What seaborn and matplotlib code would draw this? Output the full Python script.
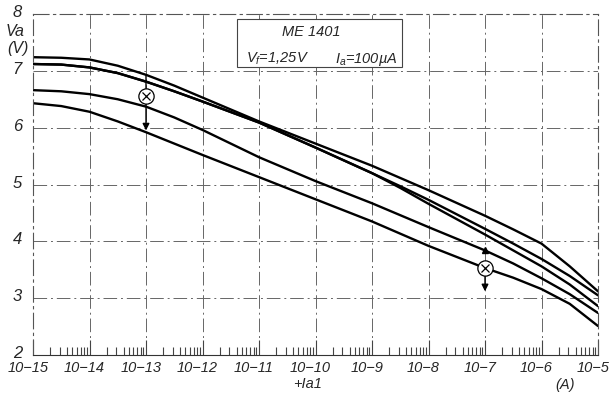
import numpy as np
import pandas as pd
import matplotlib
matplotlib.use("Agg")
import matplotlib.pyplot as plt
from matplotlib.ticker import LogLocator, FixedLocator, FixedFormatter, NullFormatter
from matplotlib.transforms import ScaledTranslation
import seaborn as sns

# ---- data (exponent of Ia1 in A, Va in V) ----
exp_main = [-15, -14.5, -14, -13.5, -13, -12.5, -12, -11, -10, -9, -8, -7, -6.5, -6, -5.5, -5]
curve_a = [7.24, 7.23, 7.20, 7.09, 6.93, 6.74, 6.53, 6.11, 5.72, 5.33, 4.90, 4.45, 4.21, 3.96, 3.56, 3.12]
curve_d = [6.66, 6.64, 6.59, 6.50, 6.37, 6.18, 5.96, 5.48, 5.06, 4.67, 4.25, 3.84, 3.61, 3.35, 3.07, 2.74]
curve_e = [6.43, 6.38, 6.28, 6.11, 5.92, 5.72, 5.52, 5.13, 4.74, 4.35, 3.92, 3.53, 3.36, 3.16, 2.90, 2.51]

exp_split = [-15, -14.5, -14, -13.5, -13, -12.5, -12, -11, -10, -9, -8.5, -8, -7, -6.5, -6, -5.5, -5]
curve_b = [7.12, 7.11, 7.06, 6.96, 6.81, 6.64, 6.46, 6.09, 5.65, 5.20, 4.97, 4.73, 4.22, 3.96, 3.69, 3.39, 3.05]
curve_c = [7.12, 7.11, 7.06, 6.96, 6.81, 6.64, 6.46, 6.09, 5.65, 5.20, 4.94, 4.66, 4.12, 3.84, 3.56, 3.24, 2.86]

x_tick_exps = [-15, -14, -13, -12, -11, -10, -9, -8, -7, -6, -5]
x_tick_labels = ["10−15", "10−14", "10−13", "10−12", "10−11", "10−10",
                 "10−9", "10−8", "10−7", "10−6", "10−5"]
y_ticks = [2, 3, 4, 5, 6, 7, 8]

# markers (circled cross) and arrows
mark_exp = [-13, -7]
mark_v = [6.55, 3.53]
arrow_exp = [-13, -7]
arrow_from = [6.93, 3.53]
arrow_to = [5.95, 3.12]
tri_exp = [-7]
tri_v = [3.84]

# ---- build table ----
rows = []
for name, ex, vals in [("A", exp_main, curve_a), ("B", exp_split, curve_b),
                       ("C", exp_split, curve_c), ("D", exp_main, curve_d),
                       ("E", exp_main, curve_e)]:
    for e, v in zip(ex, vals):
        rows.append({"curve": name, "I": 10.0 ** e, "Va": v})
df = pd.DataFrame(rows)

sns.set_theme(style="white")
plt.rcParams["font.family"] = ["Liberation Sans", "DejaVu Sans"]
plt.rcParams["font.style"] = "italic"
plt.rcParams["mathtext.fontset"] = "custom"
plt.rcParams["mathtext.rm"] = "Liberation Sans:italic"
plt.rcParams["mathtext.it"] = "Liberation Sans:italic"

fig = plt.figure(figsize=(6.1, 3.93), dpi=100)
ax = fig.add_axes([33 / 610, 1 - 355 / 393, (598 - 33) / 610, (355 - 14) / 393])

sns.lineplot(data=df, x="I", y="Va", hue="curve", palette=["black"] * 5,
             estimator=None, sort=False, legend=False, linewidth=1.7, ax=ax)

ax.set_xscale("log")
ax.set_xlim(1e-15, 1e-5)
ax.set_ylim(2, 8)

grid_style = dict(color="#666666", linewidth=0.7, linestyle=(0, (14, 4, 2, 4)))
for e in x_tick_exps[1:-1]:
    ax.axvline(10.0 ** e, zorder=0, **grid_style)
for v in y_ticks[1:-1]:
    ax.axhline(v, zorder=0, **grid_style)

for side in ["left", "top", "right"]:
    ax.spines[side].set_linestyle((0, (14, 4, 2, 4)))
    ax.spines[side].set_color("#555555")
    ax.spines[side].set_linewidth(0.8)
ax.spines["bottom"].set_color("#333333")
ax.spines["bottom"].set_linewidth(0.8)

ax.xaxis.set_major_locator(FixedLocator([10.0 ** e for e in x_tick_exps]))
ax.xaxis.set_major_formatter(FixedFormatter(x_tick_labels))
ax.xaxis.set_minor_locator(LogLocator(base=10, subs=np.arange(2, 10), numticks=200))
ax.xaxis.set_minor_formatter(NullFormatter())
ax.tick_params(axis="x", which="major", direction="in", length=11, width=0.8,
               color="#444444", labelsize=10.5, pad=4, bottom=True)
ax.tick_params(axis="x", which="minor", direction="in", length=6, width=0.8,
               color="#444444", bottom=True)
ax.set_yticks(y_ticks)
ax.set_yticklabels([str(v) for v in y_ticks])
ax.tick_params(axis="y", which="major", length=0, labelsize=12, pad=8, left=True)
xoff = ScaledTranslation(-5 / 100, 0, fig.dpi_scale_trans)
for lab in ax.get_xticklabels():
    lab.set_transform(lab.get_transform() + xoff)
yoff = ScaledTranslation(0, 3 / 100, fig.dpi_scale_trans)
for lab in ax.get_yticklabels():
    lab.set_transform(lab.get_transform() + yoff)
ax.set_xlabel("")
ax.set_ylabel("")

# markers and arrows
for e, a, b in zip(arrow_exp, arrow_from, arrow_to):
    ax.annotate("", xy=(10.0 ** e, b), xytext=(10.0 ** e, a),
                arrowprops=dict(arrowstyle="-|>", color="black", lw=1.0,
                                mutation_scale=10, shrinkA=0, shrinkB=0))
ax.plot([10.0 ** e for e in tri_exp], tri_v, marker="^", color="black",
        markersize=5, linestyle="none")
ax.plot([10.0 ** e for e in mark_exp], mark_v, marker="o", markersize=11,
        markerfacecolor="white", markeredgecolor="black", markeredgewidth=0.9,
        linestyle="none", zorder=5)
ax.plot([10.0 ** e for e in mark_exp], mark_v, marker="x", markersize=6,
        color="black", markeredgewidth=0.9, linestyle="none", zorder=6)

# annotation box
box = plt.Rectangle((237 / 610, 1 - 67 / 393), (402 - 237) / 610, (67 - 19) / 393,
                    transform=fig.transFigure, facecolor="white",
                    edgecolor="#444444", linewidth=0.8, zorder=3)
fig.patches.append(box)
fig.text(311 / 610, 1 - 32 / 393, "ME 1401", ha="center", va="center", fontsize=10.5)
fig.text(277 / 610, 1 - 59 / 393, r"$V_f$=1,25V", ha="center", va="center", fontsize=10.5)
fig.text(366 / 610, 1 - 59 / 393, r"$I_a$=100µA", ha="center", va="center", fontsize=10.5)

# axis titles
fig.text(15 / 610, 1 - 31 / 393, "Va", ha="center", va="center", fontsize=11.5)
fig.text(18 / 610, 1 - 48 / 393, "(V)", ha="center", va="center", fontsize=11.5)
fig.text(308 / 610, 1 - 384 / 393, "+Ia1", ha="center", va="center", fontsize=10.5)
fig.text(565 / 610, 1 - 385 / 393, "(A)", ha="center", va="center", fontsize=10.5)

fig.savefig("out.png", dpi=100)
